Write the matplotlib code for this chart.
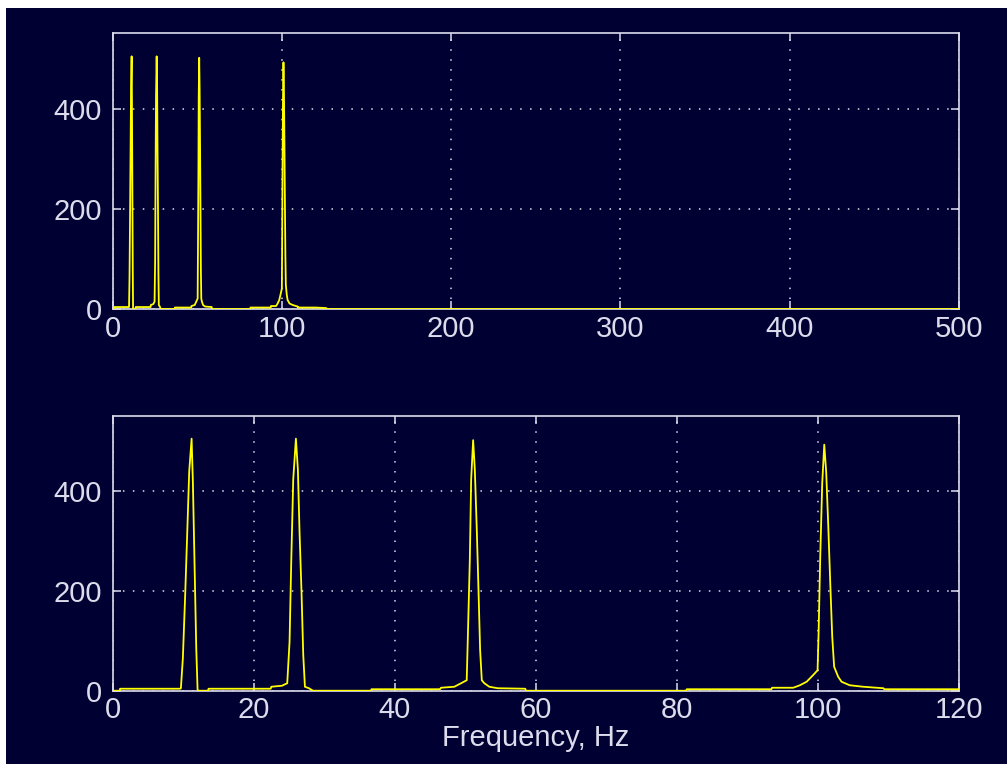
import matplotlib
matplotlib.use('agg')
import matplotlib.pyplot as plt
from matplotlib.patches import Rectangle

# spectrum (frequency in Hz, magnitude)
freq_hz = [0.0, 1.0, 1.05, 9.6, 9.67, 9.95, 10.28, 10.57, 10.85, 11.19, 11.37, 11.61, 11.85, 12.04,
           12.1, 13.5, 13.6, 22.4, 22.5, 24.0, 24.75, 25.08, 25.32, 25.6, 25.98, 26.26, 26.5, 26.78,
           27.02, 27.26, 27.83, 28.4, 36.6, 36.7, 46.4, 46.56, 48.45, 49.4, 50.2, 50.35, 50.64, 50.83,
           51.11, 51.35, 51.63, 51.87, 52.1, 52.34, 52.7, 53.4, 54.6, 58.5, 58.6, 81.3, 81.4, 93.4,
           93.5, 96.5, 97.45, 98.4, 99.3, 99.95, 100.1, 100.33, 100.61, 100.9, 101.18, 101.47, 101.75,
           102.03, 102.3, 102.87, 103.35, 104.5, 106.4, 109.3, 109.4, 120.0, 126.0, 127.0, 500.0]
magnitude = [0, 0, 4, 4, 5, 65, 192, 316, 439, 505, 419, 252, 85, 1,
             0, 0, 4, 4, 8, 10, 15, 98, 259, 423, 505, 443, 316, 195,
             72, 8, 5, 0, 0, 3, 3, 6, 8, 15, 21, 102, 262, 423,
             502, 443, 322, 202, 82, 21, 15, 8, 5, 4, 0, 0, 3, 3,
             6, 6, 11, 18, 31, 41, 118, 269, 416, 493, 436, 329, 215,
             108, 48, 28, 18, 11, 8, 5, 3, 3, 2, 0, 0]

top_xticks = [0, 100, 200, 300, 400, 500]
bottom_xticks = [0, 20, 40, 60, 80, 100, 120]
yticks = [0, 200, 400]

navy = '#000033'
fg = '#dcdcec'

plt.rcParams['font.family'] = ['Liberation Sans', 'DejaVu Sans']
plt.rcParams['font.size'] = 21

fig = plt.figure(figsize=(10.07, 7.64), dpi=100, facecolor='white')
# dark background, leaving the thin white strip top and left
fig.add_artist(Rectangle((6 / 1007, 0), 1, 1 - 8 / 764, transform=fig.transFigure,
                         facecolor=navy, edgecolor='none', zorder=-1))

ax1 = fig.add_axes([0.1119, 0.5955, 0.8404, 0.3609])
ax2 = fig.add_axes([0.1119, 0.0959, 0.8404, 0.36])


def style(ax, xticks):
    ax.set_facecolor(navy)
    ax.set_xlim(xticks[0], xticks[-1])
    ax.set_ylim(0, 551)
    ax.set_xticks(xticks)
    ax.set_yticks(yticks)
    for s in ax.spines.values():
        s.set_color(fg)
        s.set_linewidth(1.2)
    ax.tick_params(direction='in', length=6, width=1.1, color=fg, labelcolor=fg,
                   top=True, right=True)
    ax.tick_params(axis='y', pad=8)
    ax.tick_params(axis='x', pad=4)
    # dotted grid, one dot about every 10 px
    ax.grid(True, color=fg, linestyle=(0, (1, 5.5)), linewidth=1.1)
    ax.set_axisbelow(True)


for ax, ticks in [(ax1, top_xticks), (ax2, bottom_xticks)]:
    style(ax, ticks)
    ax.plot(freq_hz, magnitude, color='#ffff00', linewidth=1.3, zorder=3)

ax2.set_xlabel('Frequency, Hz', color=fg, labelpad=0)

fig.savefig('out.png', dpi=100, facecolor=fig.get_facecolor())
